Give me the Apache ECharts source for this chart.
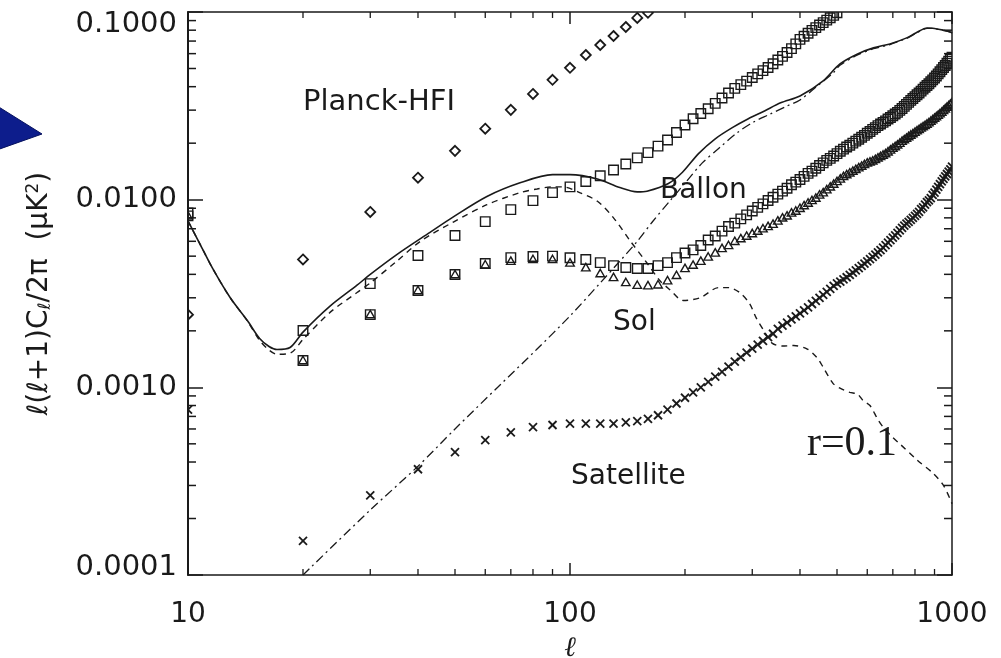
<!DOCTYPE html>
<html>
<head>
<meta charset="utf-8">
<script src="https://cdn.jsdelivr.net/npm/echarts@6/dist/echarts.min.js"></script>
<style>
html,body{margin:0;padding:0;background:#fff;}
#chart{width:1001px;height:658px;}
</style>
</head>
<body>
<div id="chart"></div>
<script>
// ---------- axis ranges and ticks ----------
const X_MIN = 10, X_MAX = 1000;
const Y_MIN = 0.0001, Y_MAX = 0.1;
const X_MINOR_TICKS = [20,30,40,50,60,70,80,90,200,300,400,500,600,700,800,900];
const Y_MINOR_TICKS = [0.0002,0.0003,0.0004,0.0005,0.0006,0.0007,0.0008,0.0009,
  0.002,0.003,0.004,0.005,0.006,0.007,0.008,0.009,
  0.02,0.03,0.04,0.05,0.06,0.07,0.08,0.09];

// ---------- multipole bins (l) ----------
const ELL = [10,20,30,40,50,60,70,80,90,100,110,120,130,140,150,160,170,180,190,200,
  210,220,230,240,250,260,270,280,290,300,310,320,330,340,350,360,370,380,390,400,
  410,420,430,440,450,460,470,480,490,500,510,520,530,540,550,560,570,580,590,600,
  610,620,630,640,650,660,670,680,690,700,710,720,730,740,750,760,770,780,790,800,
  810,820,830,840,850,860,870,880,890,900,910,920,930,940,950,960,970,980,990,1000];

// ---------- noise levels (diamonds: Planck-HFI) l = 10..160 ----------
const planckHFI = [0.00244,0.0048,0.0086,0.0131,0.0182,0.0239,0.0301,0.0366,0.0435,0.0504,
  0.059,0.0667,0.0745,0.0832,0.093,0.099];

// ---------- Ballon (squares) l = 10..500 ----------
const ballon = [0.0085,0.00201,0.00357,0.00504,0.00644,0.00764,0.00885,0.00988,0.0109,0.0117,
  0.0125,0.0134,0.0144,0.0155,0.0167,0.0178,0.0193,0.0208,0.0228,0.0250,
  0.0270,0.0288,0.0305,0.0326,0.0348,0.0370,0.0392,0.0410,0.0428,0.0448,
  0.0468,0.0487,0.0506,0.0530,0.0555,0.0580,0.0608,0.0638,0.0676,0.0715,
  0.0742,0.0770,0.0798,0.0826,0.0852,0.0878,0.0905,0.0932,0.0960,0.0990];

// ---------- Sol (squares) l = 10..1000 ----------
const solSquares = [0.0082,0.00139,0.00244,0.00328,0.00399,0.00457,0.00491,0.00498,0.00500,0.00490,
  0.00480,0.00462,0.00445,0.00435,0.00430,0.00430,0.00445,0.00462,0.00491,0.00520,
  0.00540,0.00570,0.00610,0.00640,0.00680,0.00720,0.00750,0.00790,0.00830,0.00870,
  0.00910,0.00950,0.00990,0.01030,0.01070,0.01110,0.01150,0.01200,0.01240,0.01280,
  0.0133,0.0138,0.0142,0.0147,0.0152,0.0157,0.0162,0.0166,0.0171,0.0176,
  0.0181,0.0186,0.0191,0.0195,0.0200,0.0205,0.0210,0.0215,0.0220,0.0226,
  0.0231,0.0237,0.0242,0.0248,0.0253,0.0258,0.0263,0.0269,0.0274,0.0280,
  0.0286,0.0292,0.0299,0.0306,0.0314,0.0322,0.0330,0.0338,0.0346,0.0354,
  0.0362,0.0370,0.0379,0.0388,0.0397,0.0406,0.0415,0.0425,0.0435,0.0445,
  0.0456,0.0468,0.0480,0.0493,0.0506,0.0519,0.0533,0.0547,0.0561,0.0575];

// ---------- Sol (triangles) l = 10..1000 ----------
const solTriangles = [0.0082,0.00139,0.00244,0.00328,0.00399,0.00450,0.00470,0.00480,0.00480,0.00460,
  0.00434,0.00404,0.00385,0.00362,0.00350,0.00348,0.00352,0.00370,0.00395,0.00430,
  0.00448,0.00470,0.00495,0.00520,0.00550,0.00570,0.00600,0.00620,0.00640,0.00660,
  0.0068,0.0070,0.0072,0.0074,0.0077,0.0080,0.0082,0.0085,0.0087,0.0090,
  0.0093,0.0096,0.0099,0.0102,0.0106,0.0109,0.0113,0.0117,0.0121,0.0125,
  0.0129,0.0133,0.0136,0.0139,0.0142,0.0145,0.0148,0.0151,0.0154,0.0157,
  0.0159,0.0161,0.0164,0.0167,0.0170,0.0173,0.0176,0.0180,0.0184,0.0188,
  0.0192,0.0196,0.0200,0.0205,0.0209,0.0213,0.0217,0.0221,0.0225,0.0229,
  0.0233,0.0237,0.0241,0.0245,0.0249,0.0253,0.0257,0.0262,0.0267,0.0272,
  0.0277,0.0282,0.0287,0.0293,0.0299,0.0305,0.0311,0.0317,0.0323,0.0329];

// ---------- Satellite (crosses) l = 10..1000 ----------
const satellite = [0.00076,0.000152,0.000266,0.000366,0.000451,0.000523,0.000576,0.000613,0.00063,0.00064,
  0.00064,0.00064,0.00064,0.00065,0.00066,0.00068,0.00071,0.00076,0.00082,0.00088,
  0.00094,0.00100,0.00107,0.00114,0.00121,0.00129,0.00137,0.00145,0.00153,0.00161,
  0.00169,0.00177,0.00185,0.00193,0.00205,0.00213,0.00221,0.00230,0.00239,0.00248,
  0.00257,0.00267,0.00278,0.00289,0.00300,0.00311,0.00323,0.00335,0.00347,0.00358,
  0.00366,0.00376,0.00386,0.00397,0.00408,0.00420,0.00432,0.00444,0.00456,0.00469,
  0.00482,0.00495,0.00509,0.00524,0.00538,0.00555,0.00572,0.00590,0.00608,0.00627,
  0.00646,0.00666,0.00686,0.00707,0.00728,0.00745,0.00762,0.00780,0.00800,0.00820,
  0.0084,0.0086,0.0089,0.0091,0.0094,0.0097,0.0099,0.0102,0.0106,0.0109,
  0.0113,0.0117,0.0121,0.0125,0.0129,0.0133,0.0137,0.0141,0.0145,0.0150];

// ---------- theory curves ----------
const totalEll = [10,10.75,11.6,12.9,14.3,15.4,16.3,17.1,18.5,20,23.5,27.7,30,35.2,43,49.5,60.6,74,90,100,
  118,135,150,159,181,197,217,240,266,293,323,356,400,460,509,566,623,688,761,804,861,890,950,990,1000];
const totalBB = [0.0077,0.0058,0.0043,0.0030,0.00227,0.00182,0.00165,0.00159,0.00163,0.00197,0.0027,0.0035,0.0040,0.0051,0.0067,0.0081,0.0104,0.0123,0.0136,0.0136,
  0.0129,0.0116,0.0110,0.0111,0.0122,0.0140,0.0176,0.0211,0.0242,0.0270,0.0297,0.0328,0.0357,0.0430,0.0529,0.0598,0.0644,0.0676,0.0728,0.0773,0.0822,0.0820,0.0800,0.0783,0.0770];

const primEll = [10,10.75,11.6,12.9,14.3,15.4,16.3,17.1,18.5,20,23.5,27.7,30,35.2,40.6,49.5,60.6,74,82,90,
  96,106,118,130,144,159,172,183,198,219,245,260,278,295,307,322,338,360,385,418,
  443,460,488,509,540,566,585,610,638,658,700,730,810,890,950,1000];
const primordialBB = [0.0077,0.0058,0.0043,0.0030,0.00226,0.00178,0.00158,0.00150,0.00152,0.00180,0.0025,0.0032,0.0036,0.0047,0.0060,0.0076,0.0094,0.0109,0.0114,0.0117,
  0.0117,0.0109,0.0098,0.0080,0.0060,0.0046,0.0037,0.0033,0.0029,0.0030,0.0034,0.0034,0.0032,0.0028,0.00235,0.0020,0.00172,0.00166,0.00167,0.0016,
  0.00144,0.00128,0.00105,0.00099,0.00094,0.00092,0.00085,0.00080,0.00068,0.00062,0.00054,0.00050,0.00041,0.00035,0.00030,0.00024];

const lensEll = [20,30,40,50,65.6,82,100,120,135,150,165,183,201,222,247,273,301,333,368,400,
  443,488,509,566,623,688,761,804,861,890,950,990,1000];
const lensingBB = [0.0001,0.000222,0.00038,0.00060,0.00103,0.00160,0.00240,0.0036,0.0047,0.0060,0.0077,0.0099,0.0124,0.0157,0.0190,0.0226,0.0258,0.0285,0.0314,0.0340,
  0.0402,0.0472,0.0520,0.0590,0.0637,0.0671,0.0724,0.0769,0.0818,0.0817,0.0797,0.0781,0.0768];

// ---------- annotation texts (anchored in data coordinates) ----------
const annotations = [
  {text:'Planck-HFI', l:20, v:0.0328, size:29, family:'DejaVu Sans'},
  {text:'Ballon', l:172, v:0.0112, size:28, family:'DejaVu Sans'},
  {text:'Sol', l:129.6, v:0.00222, size:28, family:'DejaVu Sans'},
  {text:'Satellite', l:100.6, v:0.000332, size:28, family:'DejaVu Sans'},
  {text:'r=0.1', l:417, v:0.000497, size:42, family:'Liberation Serif'}
];

const INK = '#1a1a1a';
const FONT = 'DejaVu Sans';

function pairs(xs, ys){ return ys.map((y,i)=>[xs[i], y]); }

function markerSeries(name, values, shape, size, lw){
  return {
    type:'custom', name, clip:true, z:5,
    data: pairs(ELL, values),
    renderItem: function(params, api){
      const p = api.coord([api.value(0), api.value(1)]);
      const h = size/2, x = p[0], y = p[1];
      const style = {fill:'none', stroke:INK, lineWidth:lw};
      if (shape === 'diamond') {
        return {type:'polygon', shape:{points:[[x,y-h],[x+h,y],[x,y+h],[x-h,y]]}, style};
      } else if (shape === 'square') {
        return {type:'rect', shape:{x:x-h, y:y-h, width:size, height:size}, style};
      } else if (shape === 'triangle') {
        return {type:'polygon', shape:{points:[[x,y-h],[x+h,y+h*0.75],[x-h,y+h*0.75]]}, style};
      } else {
        return {type:'group', children:[
          {type:'line', shape:{x1:x-h,y1:y-h,x2:x+h,y2:y+h}, style:{stroke:INK, lineWidth:lw}},
          {type:'line', shape:{x1:x-h,y1:y+h,x2:x+h,y2:y-h}, style:{stroke:INK, lineWidth:lw}}
        ]};
      }
    }
  };
}

const chart = echarts.init(document.getElementById('chart'), null, {renderer:'canvas'});

const yLabelRich = {
  n:{fontFamily:FONT, fontSize:29, color:INK},
  t:{fontFamily:FONT, fontSize:29, color:INK, padding:[24,0,0,0]},
  b:{fontFamily:FONT, fontSize:29, color:INK, padding:[0,0,16,0]}
};

const option = {
  animation:false,
  backgroundColor:'#ffffff',
  grid:{left:188, right:49, top:12, bottom:83, outerBoundsMode:'none', containLabel:false},
  xAxis:[{
    type:'log', logBase:10, min:X_MIN, max:X_MAX, position:'bottom',
    axisLine:{show:true, lineStyle:{color:INK, width:1.5}},
    axisTick:{show:true, inside:true, length:12, lineStyle:{color:INK, width:1.5}},
    axisLabel:{show:true, margin:26, fontFamily:FONT, fontSize:28, color:INK,
      formatter: v => String(Math.round(v))},
    splitLine:{show:false},
    name:'ℓ', nameLocation:'middle', nameGap:60,
    nameTextStyle:{fontFamily:'DejaVu Serif', fontStyle:'italic', fontSize:28, color:INK}
  },{
    type:'log', logBase:10, min:X_MIN, max:X_MAX, position:'top',
    axisLine:{show:true, lineStyle:{color:INK, width:1.5}},
    axisTick:{show:true, inside:true, length:12, lineStyle:{color:INK, width:1.5}},
    axisLabel:{show:false}, splitLine:{show:false}
  }],
  yAxis:[{
    type:'log', logBase:10, min:Y_MIN, max:Y_MAX, position:'left',
    axisLine:{show:true, lineStyle:{color:INK, width:2}},
    axisTick:{show:true, inside:true, length:15, lineStyle:{color:INK, width:1.5}},
    axisLabel:{show:true, margin:11, showMinLabel:true, showMaxLabel:true,
      fontFamily:FONT, fontSize:29, color:INK,
      formatter: v => {
        const s = Number(v).toFixed(4);
        if (Math.abs(v - Y_MAX) < 1e-9) return '{t|' + s + '}';
        if (Math.abs(v - Y_MIN) < 1e-12) return '{b|' + s + '}';
        return '{n|' + s + '}';
      },
      rich: yLabelRich},
    splitLine:{show:false},
    name:'{a|ℓ(ℓ+1)C}{s|ℓ}{a|/2π  (μK}{p|2}{a|)}',
    nameLocation:'middle', nameRotate:90, nameGap:134,
    nameTextStyle:{fontFamily:FONT, fontSize:28, color:INK,
      rich:{
        a:{fontFamily:FONT, fontSize:28, color:INK},
        s:{fontFamily:FONT, fontSize:17, color:INK, verticalAlign:'bottom', padding:[10,0,0,0]},
        p:{fontFamily:FONT, fontSize:17, color:INK, verticalAlign:'top', padding:[0,0,12,0]}
      }}
  },{
    type:'log', logBase:10, min:Y_MIN, max:Y_MAX, position:'right',
    axisLine:{show:true, lineStyle:{color:INK, width:1.5}},
    axisTick:{show:true, inside:true, length:15, lineStyle:{color:INK, width:1.5}},
    axisLabel:{show:false}, splitLine:{show:false}
  }],
  series:[
    // minor ticks on the x axes (bottom and top)
    {
      type:'custom', name:'xMinorTicks', clip:false, silent:true, z:3,
      data: X_MINOR_TICKS.map(v=>[v, Y_MIN]),
      renderItem:function(params, api){
        const b = api.coord([api.value(0), Y_MIN]);
        const t = api.coord([api.value(0), Y_MAX]);
        const st = {stroke:INK, lineWidth:1.3};
        return {type:'group', children:[
          {type:'line', shape:{x1:b[0],y1:b[1],x2:b[0],y2:b[1]-6}, style:st},
          {type:'line', shape:{x1:t[0],y1:t[1],x2:t[0],y2:t[1]+6}, style:st}
        ]};
      }
    },
    // minor ticks on the y axes (left and right)
    {
      type:'custom', name:'yMinorTicks', clip:false, silent:true, z:3,
      data: Y_MINOR_TICKS.map(v=>[X_MIN, v]),
      renderItem:function(params, api){
        const l = api.coord([X_MIN, api.value(1)]);
        const r = api.coord([X_MAX, api.value(1)]);
        const st = {stroke:INK, lineWidth:1.5};
        return {type:'group', children:[
          {type:'line', shape:{x1:l[0],y1:l[1],x2:l[0]+8,y2:l[1]}, style:st},
          {type:'line', shape:{x1:r[0],y1:r[1],x2:r[0]-8,y2:r[1]}, style:st}
        ]};
      }
    },
    {
      type:'line', name:'total', data:pairs(totalEll, totalBB), showSymbol:false, symbol:'none',
      smooth:0.3, clip:true, z:4,
      lineStyle:{color:INK, width:1.6, type:'solid'}
    },
    {
      type:'line', name:'primordial r=0.1', data:pairs(primEll, primordialBB), showSymbol:false, symbol:'none',
      smooth:0.3, clip:true, z:4,
      lineStyle:{color:INK, width:1.4, type:[6,5]}
    },
    {
      type:'line', name:'lensing', data:pairs(lensEll, lensingBB), showSymbol:false, symbol:'none',
      smooth:0.3, clip:true, z:4,
      lineStyle:{color:INK, width:1.3, type:[9,4,2,4]}
    },
    markerSeries('Planck-HFI', planckHFI, 'diamond', 10, 1.8),
    markerSeries('Ballon', ballon, 'square', 9.5, 1.4),
    markerSeries('Sol squares', solSquares, 'square', 9.5, 1.4),
    markerSeries('Sol triangles', solTriangles, 'triangle', 8.5, 1.4),
    markerSeries('Satellite', satellite, 'cross', 8, 1.8)
  ]
};

chart.setOption(option);

// annotation texts placed through the chart's own coordinate conversion
const graphics = annotations.map(a => {
  const p = chart.convertToPixel({gridIndex:0}, [a.l, a.v]);
  return {
    type:'text', x:p[0], y:p[1], z:20, silent:true,
    style:{text:a.text, fontFamily:a.family, fontSize:a.size,
      fill:INK, align:'left', verticalAlign:'middle'}
  };
});
// decorative slide arrow at the far left
graphics.push({
  type:'polygon', z:20, silent:true,
  shape:{points:[[-6,104],[42,134],[-6,151]]},
  style:{fill:'#0d1d8c', stroke:'#07125e', lineWidth:1}
});
chart.setOption({graphic:graphics});
</script>
</body>
</html>
